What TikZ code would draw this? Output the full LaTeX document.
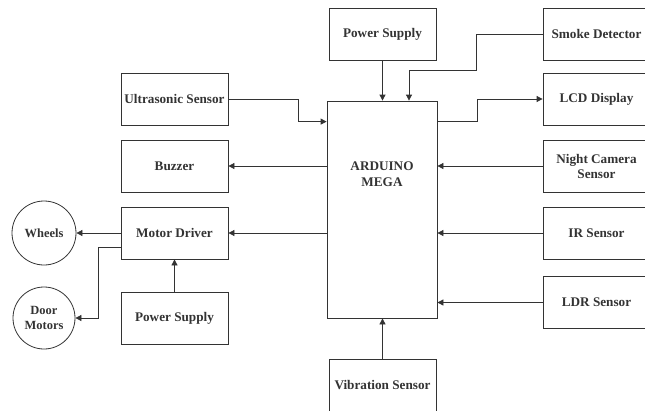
\documentclass[tikz,border=0pt]{standalone}
\usepackage{fontspec}
\setmainfont{Liberation Serif}
\usetikzlibrary{arrows.meta,calc}
\begin{document}
\begin{tikzpicture}[x=1pt,y=-1pt,
  blk/.style={draw=black!80,line width=0.8pt,minimum width=107pt,minimum height=52pt,inner sep=1pt,align=center,font=\fontsize{13.2}{15}\selectfont\bfseries,text=black!80},
  circ/.style={draw=black!80,line width=0.8pt,circle,minimum size=64pt,inner sep=0pt,align=center,font=\fontsize{12.5}{15}\selectfont\bfseries,text=black!80},
  conn/.style={draw=black!80,line width=0.8pt},
  arr/.style={conn,-{Triangle[length=6pt,width=6pt]}}]
\useasboundingbox (0,0) rectangle (645,410);
% nodes
\node[blk] (ps1) at (382.5,34) {Power Supply};
\node[blk] (smoke) at (596.5,34) {Smoke Detector};
\node[blk] (ultra) at (174.5,99) {Ultrasonic Sensor};
\node[blk] (lcd) at (596.5,99) {LCD Display};
\node[draw=black!80,line width=0.8pt,minimum width=110pt,minimum height=217pt,inner sep=0pt] (ard) at (382,209.5) {};
\node[font=\fontsize{13.2}{16}\selectfont\bfseries,text=black!80,align=center] (ardtext) at (382,174) {ARDUINO\\MEGA};
\node[blk] (buzzer) at (174.5,166) {Buzzer};
\node[blk] (night) at (596.5,166) {Night Camera\\Sensor};
\node[blk] (motor) at (174.5,233) {Motor Driver};
\node[blk] (ir) at (596.5,233) {IR Sensor};
\node[circ] (wheels) at (44,233) {Wheels};
\node[blk] (ldr) at (596.5,302.5) {LDR Sensor};
\node[blk] (ps2) at (174.5,318.5) {Power Supply};
\node[circ,minimum size=62pt] (door) at (44,318) {Door\\Motors};
\node[blk] (vib) at (382.5,385) {Vibration Sensor};
% connectors
\draw[arr] (ps1.south) -- (ps1.south |- ard.north);
\draw[arr] (smoke.west) -- ++(-66,0) |- ($(ard.north)+(27,-30)$) -- ($(ard.north)+(27,0)$);
\draw[arr] (ultra.east) -- ++(70,0) |- ($(ard.north west)+(0,21)$);
\draw[arr] ($(ard.north east)+(0,21)$) -- ++(40,0) |- (lcd.west);
\draw[arr] (night.west) -- (night.west -| ard.east);
\draw[arr] (buzzer.east -| ard.west) -- (buzzer.east);
\draw[arr] (motor.east -| ard.west) -- (motor.east);
\draw[arr] (ir.west) -- (ir.west -| ard.east);
\draw[arr] (ldr.west) -- (ldr.west -| ard.east);
\draw[arr] (vib.north) -- (vib.north |- ard.south);
\draw[arr] (ps2.north) -- (motor.south);
\draw[arr] (motor.west) -- (wheels.east);
\draw[arr] ($(motor.west)+(0,14)$) -- ++(-22,0) |- (door.east);
\end{tikzpicture}
\end{document}
